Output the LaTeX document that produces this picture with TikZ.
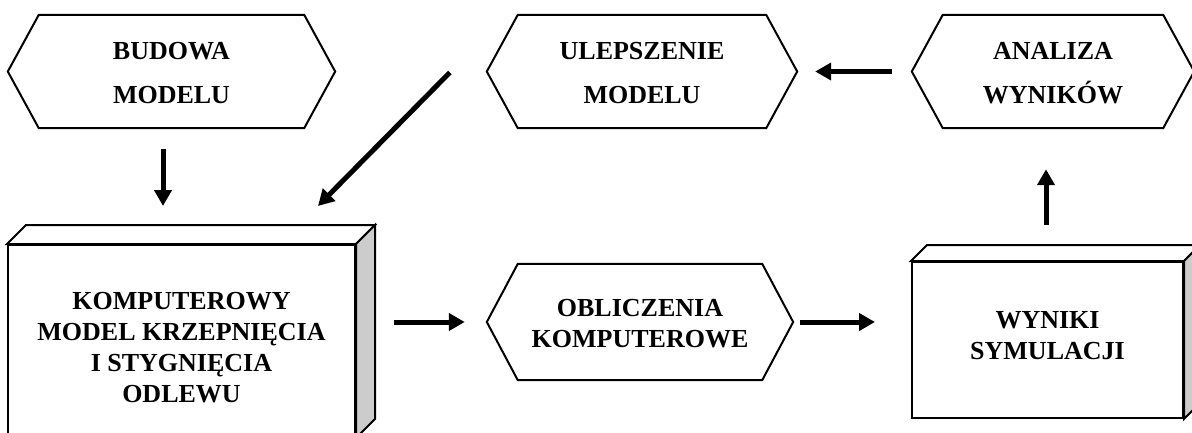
\documentclass[tikz,border=0pt]{standalone}
\usepackage{fontspec}
\setmainfont{Liberation Serif}
\usetikzlibrary{arrows.meta,calc}
\begin{document}
\begin{tikzpicture}[x=1pt,y=-1pt,
  labeltext/.style={font=\bfseries\fontsize{26}{31}\selectfont, align=center},
  hexnode/.style={labeltext, inner sep=0pt, minimum width=#1},
  boxfront/.style={draw, line width=2pt, fill=white, inner sep=0pt},
  outline/.style={line width=2pt, line join=miter},
  arr/.style={line width=5pt, -{Triangle[length=16pt,width=17pt]}}
]
\useasboundingbox (0,0) rectangle (1192,432);

% hexagonal steps (text first, outline drawn around the node box)
\node[hexnode=327pt, minimum height=113pt] (budowa)  at (171.5,73.5) {BUDOWA\\[13pt]MODELU};
\node[hexnode=310pt, minimum height=113pt] (ulep)    at (642,73.5)   {ULEPSZENIE\\[13pt]MODELU};
\node[hexnode=282pt, minimum height=113pt] (analiza) at (1053,73.5)  {ANALIZA\\[13pt]WYNIKÓW};
\node[hexnode=306pt, minimum height=116pt] (oblicz)  at (640,324)    {OBLICZENIA\\KOMPUTEROWE};

\foreach \n in {budowa,ulep,analiza,oblicz}
  \draw[outline] ($(\n.north west)+(31,-2)$) -- ($(\n.north east)+(-31,-2)$) -- ($(\n.east)+(0,-2)$)
    -- ($(\n.south east)+(-31,-2)$) -- ($(\n.south west)+(31,-2)$) -- ($(\n.west)+(0,-2)$) -- cycle;

% 3D boxes: front face with its caption, then top and shaded side faces
\node[boxfront, minimum width=347pt, minimum height=192pt,
  label={[labeltext, yshift=-7pt]center:{KOMPUTEROWY\\MODEL KRZEPNIĘCIA\\I STYGNIĘCIA\\ODLEWU}}]
  (komp) at (181.5,341) {};
\draw[outline, fill=white] (komp.north west) -- ++(19,-19) -- ($(komp.north east)+(19,-19)$) -- (komp.north east) -- cycle;
\draw[outline, fill=black!20] (komp.north east) -- ++(19,-19) -- ($(komp.south east)+(19,-19)$) -- (komp.south east) -- cycle;

\node[boxfront, minimum width=271pt, minimum height=156pt,
  label={[labeltext, yshift=4pt]center:{WYNIKI\\SYMULACJI}}]
  (wyn) at (1047.5,340) {};
\draw[outline, fill=white] (wyn.north west) -- ++(16,-16) -- ($(wyn.north east)+(16,-16)$) -- (wyn.north east) -- cycle;
\draw[outline, fill=black!20] (wyn.north east) -- ++(16,-16) -- ($(wyn.south east)+(16,-16)$) -- (wyn.south east) -- cycle;

% connectors
\coordinate (dn) at ($(budowa.south)+(-8.5,0)$);
\draw[arr, shorten <=19pt, shorten >=38pt] (dn) -- (dn |- komp.north);

\coordinate (dA) at ($(ulep.west)+(-37,-1)$);
\coordinate (dB) at ($(komp.north east)+(-38,-38)$);
\draw[arr] (dA) -- (dB);

\draw[arr, shorten <=20pt, shorten >=18pt] ($(analiza.west)+(0,-2)$) -- ($(ulep.east)+(0,-2)$);

\coordinate (up) at ($(wyn.north)+(-1.5,0)$);
\draw[arr, shorten <=36pt, shorten >=39pt] (up) -- (up |- analiza.south);

\draw[arr, shorten <=38pt, shorten >=22pt] ($(oblicz.west -| komp.east)+(0,-2)$) -- ($(oblicz.west)+(0,-2)$);
\draw[arr, shorten <=7pt, shorten >=36pt] ($(oblicz.east)+(0,-2)$) -- ($(oblicz.east -| wyn.west)+(0,-2)$);
\end{tikzpicture}
\end{document}
